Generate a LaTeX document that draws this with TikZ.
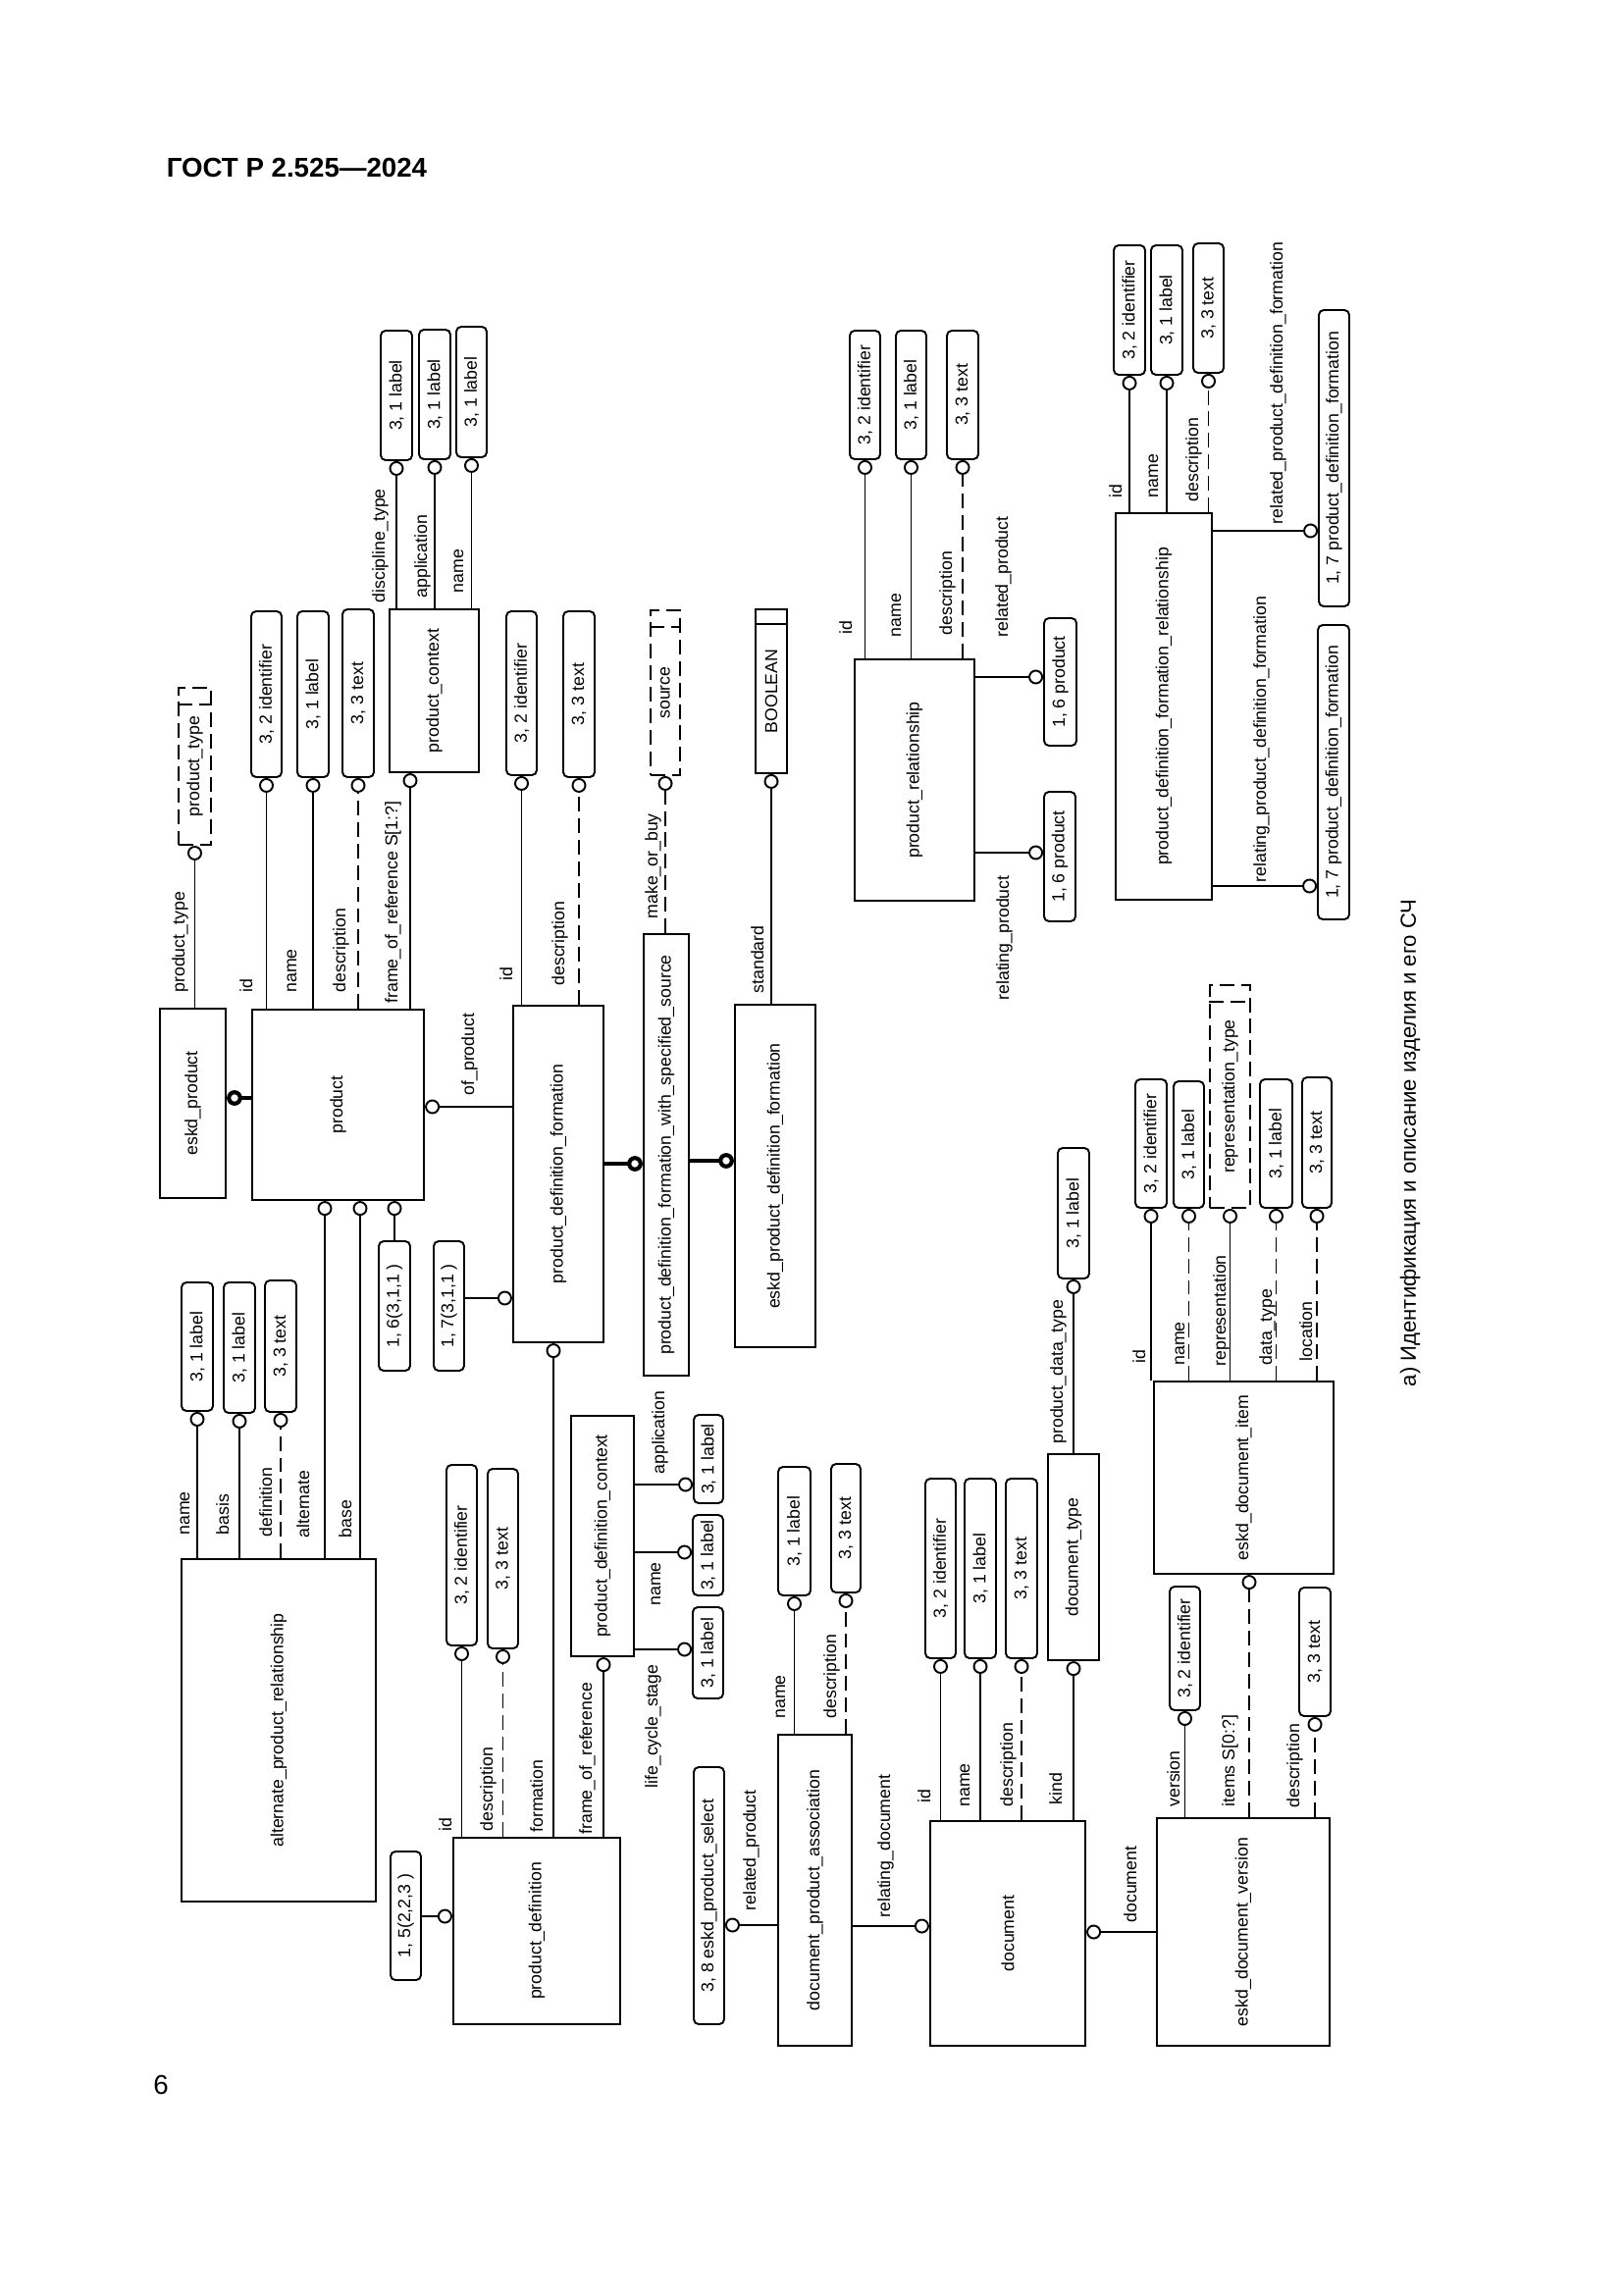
\documentclass[tikz,border=0pt]{standalone}
\usepackage{fontspec}
\setmainfont{Liberation Sans}
\usepackage{graphicx}
\usetikzlibrary{arrows.meta, calc}

\newcommand{\dg}{\fontsize{6.4}{7.2}\selectfont}
\newcommand{\vt}[1]{\rotatebox{90}{#1}}

\begin{document}
\begin{tikzpicture}[
  x=0.127mm, y=-0.127mm,
  spans/.style n args={4}{at={({(#1+#3)/2},{(#2+#4)/2})},
    minimum width={(#3-#1)*0.127mm}, minimum height={(#4-#2)*0.127mm}},
  entbox/.style={draw, line width=0.8pt, inner sep=0pt, font=\dg},
  attbox/.style={draw, line width=0.7pt, rounded corners=1.8pt, inner sep=0pt, font=\dg},
  typebox/.style={draw, line width=0.7pt, dash pattern=on 5.4pt off 2.5pt, inner sep=0pt, font=\dg},
  basebox/.style={draw, line width=0.7pt, inner sep=0pt, font=\dg},
  attline/.style={line width=0.7pt, -{Circle[open, length=1.9mm]}},
  optline/.style={attline, dash pattern=on 5.4pt off 2.5pt},
  subline/.style={line width=1.5pt, -{Circle[open, length=2mm]}},
  lbl/.style={rotate=90, anchor=base west, inner sep=0pt, font=\dg}
]
  \fill[white] (0,0) rectangle (1654,2339);
  \useasboundingbox (0,0) rectangle (1654,2339);

  % page furniture
  \node[anchor=west, font=\bfseries\fontsize{10}{12}\selectfont] (hdr) at (160,171) {ГОСТ Р 2.525—2024};
  \node[font=\fontsize{10}{12}\selectfont] (pgno) at (164,2125) {6};
  \node[rotate=90, font=\fontsize{8}{9.6}\selectfont] (cap) at (1437,1165) {а) Идентификация и описание изделия и его СЧ};

  % entities
  \node[entbox, spans={163}{1028}{230}{1221}] (eprod) {\vt{eskd\_product}};
  \node[entbox, spans={257}{1029}{432}{1223}] (prod) {\vt{product}};
  \node[entbox, spans={397}{621}{488}{787}] (pctx) {\vt{product\_context}};
  \node[entbox, spans={523}{1025}{615}{1368}] (pdf) {\vt{product\_definition\_formation}};
  \node[entbox, spans={656}{952}{702}{1402}] (pdfs) {\vt{product\_definition\_formation\_with\_specified\_source}};
  \node[entbox, spans={749}{1024}{831}{1373}] (epdf) {\vt{eskd\_product\_definition\_formation}};
  \node[entbox, spans={871}{672}{993}{918}] (prel) {\vt{product\_relationship}};
  \node[entbox, spans={1137}{523}{1235}{917}] (pdfr) {\vt{product\_definition\_formation\_relationship}};
  \node[entbox, spans={185}{1589}{383}{1938}] (apr) {\vt{alternate\_product\_relationship}};
  \node[entbox, spans={462}{1873}{632}{2063}] (pd) {\vt{product\_definition}};
  \node[entbox, spans={582}{1443}{646}{1688}] (pdc) {\vt{product\_definition\_context}};
  \node[entbox, spans={793}{1768}{868}{2085}] (dpa) {\vt{document\_product\_association}};
  \node[entbox, spans={948}{1856}{1106}{2085}] (doc) {\vt{document}};
  \node[entbox, spans={1068}{1482}{1120}{1692}] (dtp) {\vt{document\_type}};
  \node[entbox, spans={1176}{1408}{1359}{1604}] (edi) {\vt{eskd\_document\_item}};
  \node[entbox, spans={1179}{1853}{1355}{2085}] (edv) {\vt{eskd\_document\_version}};

  % types
  \node[typebox, spans={182}{701}{215}{861}] (ptp) {\vt{product\_type}};
  \node[typebox, spans={663}{622}{693}{790}] (src) {\vt{source}};
  \node[typebox, spans={1233}{1004}{1274}{1231}] (rpt) {\vt{representation\_type}};
  \node[basebox, spans={770}{621}{802}{788}] (bool) {\vt{BOOLEAN}};
  \foreach \t in {ptp, src, rpt}
    \draw[line width=0.7pt, dash pattern=on 5.4pt off 2.5pt] ($(\t.north west)+(0,18)$) -- ($(\t.north east)+(0,18)$);
  \draw[line width=0.7pt] ($(bool.north west)+(0,16)$) -- ($(bool.north east)+(0,16)$);

  % attribute and reference boxes
  \node[attbox, spans={388}{337}{420}{469}] (pc1) {\vt{3, 1 label}};
  \node[attbox, spans={427}{336}{459}{468}] (pc2) {\vt{3, 1 label}};
  \node[attbox, spans={465}{333}{496}{466}] (pc3) {\vt{3, 1 label}};
  \node[attbox, spans={256}{623}{287}{792}] (p1) {\vt{3, 2 identifier}};
  \node[attbox, spans={303}{623}{335}{792}] (p2) {\vt{3, 1 label}};
  \node[attbox, spans={349}{621}{381}{792}] (p3) {\vt{3, 3 text}};
  \node[attbox, spans={516}{623}{547}{790}] (f1) {\vt{3, 2 identifier}};
  \node[attbox, spans={574}{623}{606}{792}] (f2) {\vt{3, 3 text}};
  \node[attbox, spans={866}{337}{897}{468}] (r1) {\vt{3, 2 identifier}};
  \node[attbox, spans={913}{337}{944}{468}] (r2) {\vt{3, 1 label}};
  \node[attbox, spans={965}{337}{997}{468}] (r3) {\vt{3, 3 text}};
  \node[attbox, spans={1064}{630}{1097}{760}] (r4) {\vt{1, 6 product}};
  \node[attbox, spans={1064}{807}{1096}{939}] (r5) {\vt{1, 6 product}};
  \node[attbox, spans={1135}{250}{1167}{382}] (q1) {\vt{3, 2 identifier}};
  \node[attbox, spans={1173}{250}{1205}{382}] (q2) {\vt{3, 1 label}};
  \node[attbox, spans={1216}{248}{1247}{380}] (q3) {\vt{3, 3 text}};
  \node[attbox, spans={1344}{316}{1375}{618}] (q4) {\vt{1, 7 product\_definition\_formation}};
  \node[attbox, spans={1343}{637}{1375}{937}] (q5) {\vt{1, 7 product\_definition\_formation}};
  \node[attbox, spans={185}{1307}{217}{1438}] (a1) {\vt{3, 1 label}};
  \node[attbox, spans={228}{1307}{260}{1440}] (a2) {\vt{3, 1 label}};
  \node[attbox, spans={270}{1305}{302}{1439}] (a3) {\vt{3, 3 text}};
  \node[attbox, spans={386}{1265}{418}{1397}] (o16) {\vt{1, 6(3,1,1 )}};
  \node[attbox, spans={442}{1265}{473}{1397}] (o17) {\vt{1, 7(3,1,1 )}};
  \node[attbox, spans={398}{1887}{429}{2018}] (o15) {\vt{1, 5(2,2,3 )}};
  \node[attbox, spans={455}{1493}{486}{1677}] (d1) {\vt{3, 2 identifier}};
  \node[attbox, spans={497}{1497}{528}{1680}] (d2) {\vt{3, 3 text}};
  \node[attbox, spans={707}{1442}{737}{1532}] (c1) {\vt{3, 1 label}};
  \node[attbox, spans={706}{1544}{737}{1626}] (c2) {\vt{3, 1 label}};
  \node[attbox, spans={706}{1638}{737}{1731}] (c3) {\vt{3, 1 label}};
  \node[attbox, spans={793}{1495}{826}{1626}] (s1) {\vt{3, 1 label}};
  \node[attbox, spans={847}{1492}{877}{1623}] (s2) {\vt{3, 3 text}};
  \node[attbox, spans={707}{1801}{738}{2063}] (s3) {\vt{3, 8 eskd\_product\_select}};
  \node[attbox, spans={943}{1507}{974}{1690}] (m1) {\vt{3, 2 identifier}};
  \node[attbox, spans={983}{1507}{1015}{1690}] (m2) {\vt{3, 1 label}};
  \node[attbox, spans={1025}{1507}{1057}{1690}] (m3) {\vt{3, 3 text}};
  \node[attbox, spans={1078}{1170}{1110}{1303}] (t1) {\vt{3, 1 label}};
  \node[attbox, spans={1157}{1100}{1189}{1231}] (i1) {\vt{3, 2 identifier}};
  \node[attbox, spans={1196}{1102}{1227}{1231}] (i2) {\vt{3, 1 label}};
  \node[attbox, spans={1284}{1100}{1317}{1231}] (i4) {\vt{3, 1 label}};
  \node[attbox, spans={1327}{1098}{1357}{1231}] (i5) {\vt{3, 3 text}};
  \node[attbox, spans={1192}{1617}{1223}{1743}] (v1) {\vt{3, 2 identifier}};
  \node[attbox, spans={1324}{1618}{1356}{1749}] (v2) {\vt{3, 3 text}};

  % vertical attribute lines
  \foreach \b in {pc1, pc2, pc3}
    \draw[attline] (pctx.north -| \b.south) -- (\b.south);
  \foreach \b/\s in {p1/attline, p2/attline, p3/optline}
    \draw[\s] (prod.north -| \b.south) -- (\b.south);
  \foreach \b/\s in {f1/attline, f2/optline}
    \draw[\s] (pdf.north -| \b.south) -- (\b.south);
  \foreach \b/\s in {r1/attline, r2/attline, r3/optline}
    \draw[\s] (prel.north -| \b.south) -- (\b.south);
  \foreach \b/\s in {q1/attline, q2/attline, q3/optline}
    \draw[\s] (pdfr.north -| \b.south) -- (\b.south);
  \foreach \b/\s in {a1/attline, a2/attline, a3/optline}
    \draw[\s] (apr.north -| \b.south) -- (\b.south);
  \foreach \b/\s in {d1/attline, d2/optline}
    \draw[\s] (pd.north -| \b.south) -- (\b.south);
  \foreach \b/\s in {s1/attline, s2/optline}
    \draw[\s] (dpa.north -| \b.south) -- (\b.south);
  \foreach \b/\s in {m1/attline, m2/attline, m3/optline}
    \draw[\s] (doc.north -| \b.south) -- (\b.south);
  \foreach \b/\s in {i1/attline, i2/optline, rpt/attline, i4/optline, i5/optline}
    \draw[\s] (edi.north -| \b.south) -- (\b.south);
  \foreach \b/\s in {v1/attline, v2/optline}
    \draw[\s] (edv.north -| \b.south) -- (\b.south);
  \draw[attline] (eprod.north -| ptp.south) -- (ptp.south);
  \draw[optline] (pdfs.north -| src.south) -- (src.south);
  \draw[attline] (epdf.north -| bool.south) -- (bool.south);
  \draw[attline] (dtp.north -| t1.south) -- (t1.south);
  \draw[attline] (doc.north -| dtp.south) -- (dtp.south);
  \draw[attline] (prod.north -| 418,0) -- (pctx.south -| 418,0);
  \draw[attline] (apr.north -| 331,0) -- (prod.south -| 331,0);
  \draw[attline] (apr.north -| 367,0) -- (prod.south -| 367,0);
  \draw[attline] (o16.north) -- (o16.north |- prod.south);
  \draw[attline] (pd.north -| 564,0) -- (pdf.south -| 564,0);
  \draw[attline] (pd.north -| 615,0) -- (pdc.south -| 615,0);
  \draw[optline] (edv.north -| 1273,0) -- (edi.south -| 1273,0);

  % horizontal lines
  \draw[subline] (prod.west |- 0,1119) -- (eprod.east |- 0,1119);
  \draw[subline] (pdf.east |- 0,1186) -- (pdfs.west |- 0,1186);
  \draw[subline] (pdfs.east |- 0,1183) -- (epdf.west |- 0,1183);
  \draw[attline] (pdf.west |- 0,1128) -- (prod.east |- 0,1128);
  \draw[attline] (o17.east |- 0,1323) -- (pdf.west |- 0,1323);
  \draw[attline] (prel.east |- 0,690) -- (r4.west |- 0,690);
  \draw[attline] (prel.east |- 0,869) -- (r5.west |- 0,869);
  \draw[attline] (pdfr.east |- 0,541) -- (q4.west |- 0,541);
  \draw[attline] (pdfr.east |- 0,903) -- (q5.west |- 0,903);
  \draw[attline] (o15.east |- 0,1953) -- (pd.west |- 0,1953);
  \draw[attline] (pdc.east |- 0,1513) -- (c1.west |- 0,1513);
  \draw[attline] (pdc.east |- 0,1582) -- (c2.west |- 0,1582);
  \draw[attline] (pdc.east |- 0,1681) -- (c3.west |- 0,1681);
  \draw[attline] (dpa.west |- 0,1962) -- (s3.east |- 0,1962);
  \draw[attline] (dpa.east |- 0,1963) -- (doc.west |- 0,1963);
  \draw[attline] (edv.west |- 0,1969) -- (doc.east |- 0,1969);

  % attribute labels
  \foreach \n/\x/\y/\t in {l1/392/615/discipline\_type, l2/435/610/application, l3/472/605/name,
      l4/257/1012/id, l5/302/1012/name, l6/352/1012/description, l7/188/1012/product\_type,
      l8/483/1117/of\_product, l9/522/1000/id, l10/575/1005/description,
      l11/670/937/make\_or\_buy, l12/778/1013/standard,
      l13/868/647/id, l14/918/650/name, l15/970/648/description,
      l16/1027/650/related\_product, l17/1028/1020/relating\_product,
      l18/1143/508/id, l19/1180/508/name, l20/1221/512/description,
      l21/1307/535/related\_product\_definition\_formation,
      l22/1290/900/relating\_product\_definition\_formation,
      l23/193/1565/name, l24/233/1565/basis, l25/277/1567/definition,
      l26/315/1568/alternate, l27/358/1568/base,
      l28/460/1867/id, l29/502/1867/description, l30/553/1868/formation,
      l31/603/1870/frame\_of\_reference,
      l32/677/1503/application, l33/673/1637/name, l34/670/1823/life\_cycle\_stage,
      l35/800/1752/name, l36/852/1752/description, l37/770/1948/related\_product,
      l38/907/1955/relating\_document,
      l39/948/1838/id, l40/988/1842/name, l41/1032/1842/description, l42/1082/1840/kind,
      l43/1083/1472/product\_data\_type,
      l44/1167/1390/id, l45/1207/1392/name, l46/1249/1393/representation,
      l47/1296/1392/data\_type, l48/1337/1388/location,
      l49/1202/1842/version, l50/1324/1843/description, l51/1158/1960/document}
    \node[lbl] (\n) at (\x,\y) {\t};
  \node[lbl] (l52) at (405,1023) {frame\_of\_reference S[1:?]};
  \node[lbl] (l53) at (1258,1842) {items S[0:?]};
\end{tikzpicture}
\end{document}
